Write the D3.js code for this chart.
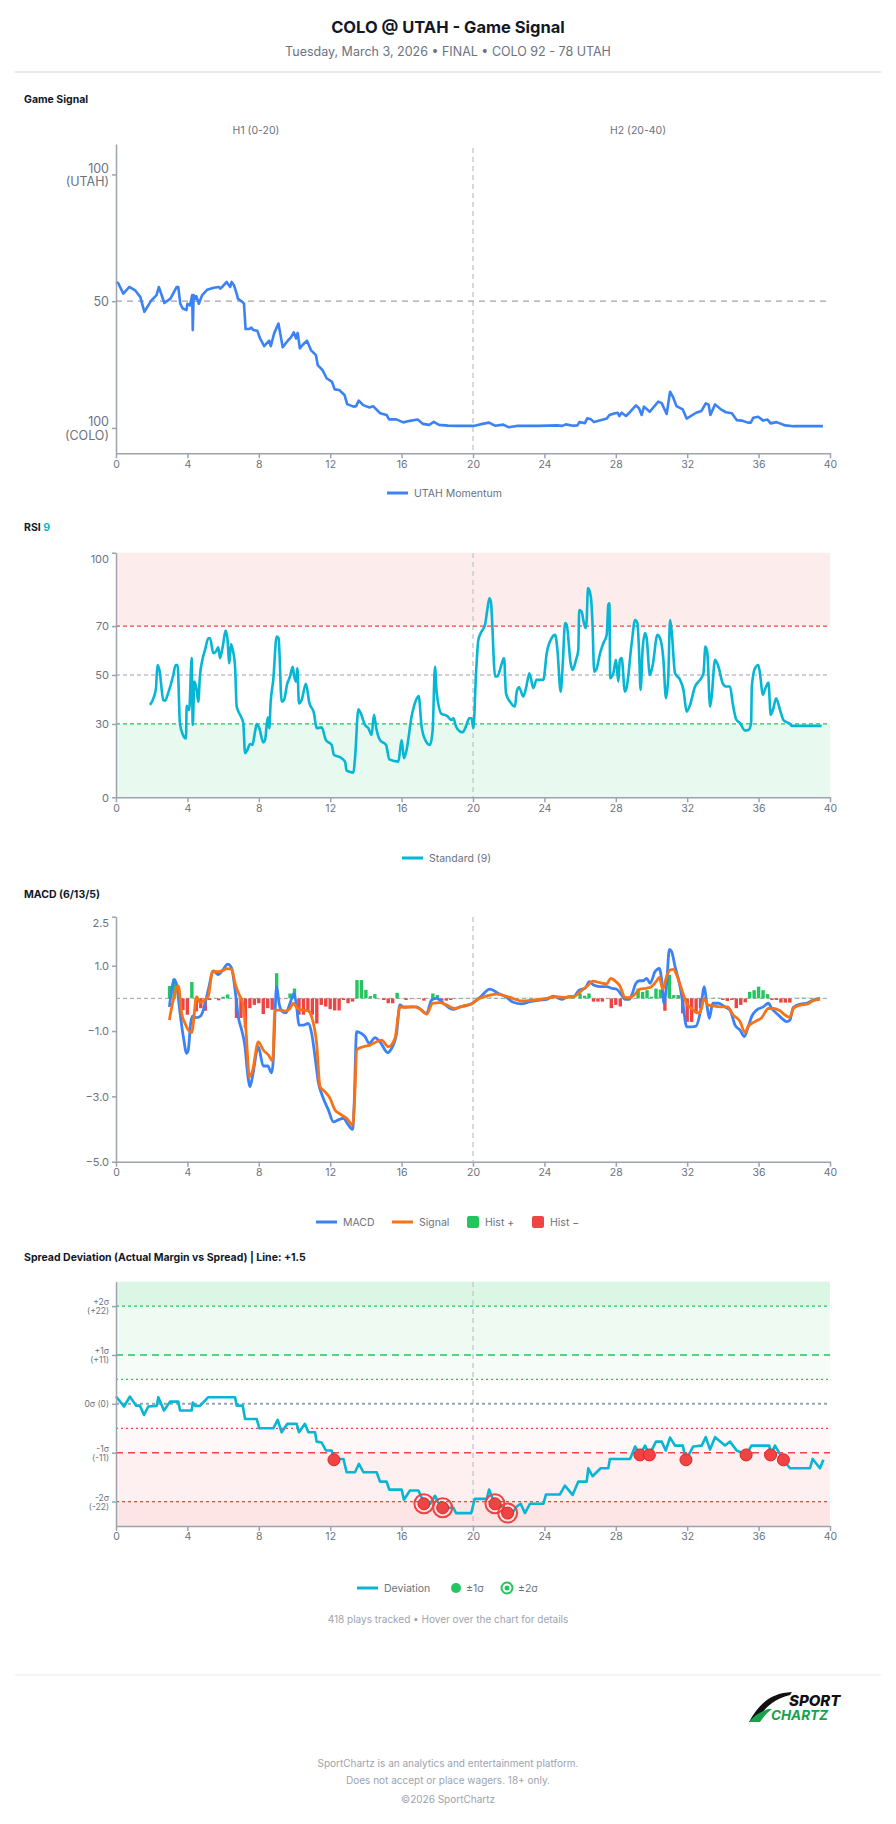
<!DOCTYPE html>
<html>
<head>
<meta charset="utf-8">
<title>COLO @ UTAH - Game Signal</title>
<script src="https://cdn.jsdelivr.net/npm/d3@7"></script>
<style>
  body { margin: 0; background: #fff; }
  svg text { font-family: Inter, "Noto Sans", "DejaVu Sans", sans-serif; }
</style>
</head>
<body>
<div id="chart"></div>
<script>
// game minutes on every x axis
const minuteTicks = [0, 4, 8, 12, 16, 20, 24, 28, 32, 36, 40];

// UTAH momentum (0 = COLO side, 100 = UTAH side)
const momentum = [
  [0,57.6],[0.13,57],[0.41,53],[0.75,55.6],[1.07,54.3],[1.36,51.7],[1.59,45.8],[1.96,50.1],[2.27,52.4],[2.4,55.6],
  [2.71,49.3],[3.05,51],[3.4,55.6],[3.49,55.6],[3.6,49],[3.74,47.1],[3.95,46.5],[4.0,49],[4.14,48.3],[4.27,52.4],
  [4.3,38.6],[4.35,52.4],[4.45,51],[4.5,52],[4.64,49],[4.83,52.4],[5.1,54.5],[5.48,55.3],[5.76,55.6],[5.85,55],
  [6.0,56],[6.2,57.6],[6.4,55.6],[6.48,57.6],[6.6,56.4],[6.76,53],[6.83,51],[7.08,49.7],[7.17,49],[7.26,39],
  [7.45,39],[7.58,39.6],[7.7,38.6],[7.92,38.3],[8.07,35.3],[8.3,32.3],[8.58,34.4],[8.67,32.3],[8.86,37.3],[9.1,41.2],
  [9.34,31.8],[9.62,34.4],[9.8,35.7],[9.96,37.7],[10.09,35.3],[10.18,37.5],[10.3,31.4],[10.45,32.7],[10.7,34.4],[10.92,30.7],
  [11.2,28.7],[11.3,24.8],[11.57,22.8],[11.8,19.6],[12.1,18.2],[12.25,15.2],[12.5,15],[12.8,13],[12.95,9.4],[13.3,8.4],
  [13.45,8.6],[13.6,10.8],[13.85,9],[14.2,8.1],[14.4,8.6],[14.8,5.8],[15.16,5.1],[15.3,3.4],[15.7,3.4],[16.1,2.2],
  [16.47,2.8],[16.9,3.3],[17.2,1.6],[17.55,1.2],[17.8,2.4],[18.1,1.2],[18.6,0.9],[19.09,0.8],[20.02,0.8],[20.39,1.4],
  [20.9,2.1],[21.23,0.9],[21.7,1.3],[21.98,0.3],[22.45,0.8],[23.2,0.8],[23.7,0.8],[24.7,1],[25.0,0.8],[25.2,1.4],
  [25.6,0.9],[25.85,1.0],[25.96,2.3],[26.27,1.9],[26.4,3.8],[26.6,3.4],[26.78,2.3],[27.5,3.7],[27.64,5.1],[27.96,5.8],
  [28.1,6],[28.2,4.7],[28.33,6],[28.57,4.7],[28.76,6],[29.13,8.9],[29.3,7.8],[29.45,5.1],[29.58,8.4],[29.9,6.4],
  [30.38,10.4],[30.57,9.8],[30.85,5.5],[31.04,14.3],[31.2,12.3],[31.4,8.6],[31.75,7.3],[31.97,3.7],[32.5,6],[32.8,6.7],
  [33.04,9.7],[33.2,9.2],[33.3,5.1],[33.56,9.3],[33.93,7.1],[34.17,6.2],[34.5,5.8],[34.77,3.1],[35.05,2.9],[35.4,2.1],
  [35.56,2.1],[35.7,4],[35.98,4.4],[36.26,2.9],[36.5,3.3],[36.67,1.8],[37.0,2.3],[37.5,1],[37.95,0.7],[39.6,0.7]
];

// RSI (9)
const rsi = [
  [1.9,37.8],[2.13,41.2],[2.24,44.6],[2.32,54.1],[2.43,52.1],[2.65,39.8],[2.75,39.5],[2.93,42.8],[3.21,50],[3.34,54.1],
  [3.45,54.1],[3.58,30.3],[3.73,25.9],[3.92,24.1],[3.96,37.4],[4.1,35.7],[4.24,56.9],[4.3,29.6],[4.39,47.3],[4.52,43.9],
  [4.61,39.1],[4.7,49.4],[4.86,56.9],[4.99,60.3],[5.17,65],[5.27,65],[5.45,58.9],[5.6,59.6],[5.73,61.3],[5.83,56.9],
  [5.98,61.6],[6.14,68.2],[6.24,65],[6.35,54.8],[6.44,62.7],[6.54,60.3],[6.67,53.4],[6.76,37.1],[6.95,33.7],[7.13,30.3],
  [7.23,18],[7.36,19.4],[7.51,21.8],[7.64,21.4],[7.79,26.9],[7.88,29.9],[8.03,28.2],[8.25,22.4],[8.35,23.4],[8.5,32.7],
  [8.59,28.2],[8.66,38.4],[8.81,48],[9.0,65.7],[9.11,65],[9.28,39.1],[9.41,39.8],[9.6,46.6],[9.75,49.4],[9.9,53.4],
  [9.97,50],[10.08,47.3],[10.16,52.8],[10.25,38.4],[10.4,39.8],[10.64,46.4],[10.83,38.7],[11.09,34.4],[11.24,28.2],[11.52,28.6],
  [11.76,23.4],[12.08,21.4],[12.21,17.3],[12.55,16.4],[12.83,14.6],[12.92,10.9],[13.3,10.1],[13.39,16],[13.58,36],[13.71,34.4],
  [13.95,29.6],[14.14,28.2],[14.32,25.5],[14.45,33.7],[14.6,27.5],[14.79,23.4],[15.13,21.4],[15.31,15.5],[15.82,14.6],[16.0,23.4],
  [16.13,16],[16.28,19.4],[16.56,33],[16.81,39.8],[16.96,41.4],[17.12,28.9],[17.37,22.8],[17.59,21.4],[17.74,27.5],[17.87,53.4],
  [17.96,43.2],[18.24,34.1],[18.52,33.4],[18.8,31.6],[18.9,32.3],[19.05,28.9],[19.27,26.9],[19.42,26.6],[19.6,28.9],[19.79,32.3],
  [19.92,32.3],[20.02,28.2],[20.17,50.7],[20.3,64.3],[20.43,67.1],[20.67,70.5],[20.8,76.6],[20.92,81.4],[21.0,80],[21.24,49.4],
  [21.37,49.4],[21.51,52.1],[21.74,56.9],[21.85,42.5],[22.07,39.1],[22.35,37.1],[22.45,43.2],[22.58,45],[22.82,41.2],[22.97,44.6],
  [23.16,50.7],[23.38,44.6],[23.56,48],[23.94,48],[24.13,58.9],[24.4,65],[24.6,66.4],[24.73,60.3],[24.91,43.2],[25.02,53.4],
  [25.16,71.2],[25.25,70.5],[25.47,54.8],[25.58,52.1],[25.77,56.2],[25.9,60.3],[25.95,76.6],[26.09,75.9],[26.18,72.5],[26.31,69.1],
  [26.37,72.5],[26.44,85.5],[26.6,82.1],[26.69,71.8],[26.79,51.4],[26.9,52.1],[27.12,58.9],[27.3,63],[27.49,66.4],[27.58,78.7],
  [27.64,79.3],[27.69,48.7],[27.86,50.7],[28.01,56.2],[28.14,47.3],[28.23,56.2],[28.33,56.9],[28.51,43.2],[28.6,44.6],[28.89,63],
  [29.08,72.5],[29.21,71.2],[29.3,60.3],[29.39,43.9],[29.5,60.3],[29.64,67.1],[29.73,65],[29.91,50],[30.07,54.1],[30.33,66.4],
  [30.48,65],[30.66,56.9],[30.81,40.5],[30.94,49.4],[31.04,72.5],[31.13,67.8],[31.32,50.7],[31.6,48],[31.79,43.9],[31.97,35],
  [32.16,37.8],[32.44,45.3],[32.72,48],[32.91,50.7],[33.02,61.6],[33.13,58.9],[33.28,37.1],[33.37,41.2],[33.56,56.2],[33.75,53.4],
  [33.99,46.6],[34.18,45.3],[34.4,45.3],[34.55,38.4],[34.74,31.9],[34.96,30.3],[35.24,27.3],[35.43,27.5],[35.58,30.3],[35.62,45.3],
  [35.8,52.8],[35.99,54.1],[36.12,48],[36.23,41.9],[36.42,45.3],[36.55,46.9],[36.68,33.7],[36.83,36.4],[36.98,40.5],[37.2,35.7],
  [37.39,31.6],[37.57,30.7],[37.76,30],[37.85,29.2],[39.53,29.2]
];

// MACD (6/13/5) line
const macd = [
  [2.99,-0.26],[3.12,0.26],[3.25,0.58],[3.4,0.41],[3.59,-0.46],[3.77,-1.17],[3.96,-1.68],[4.05,-1.58],[4.18,-0.77],[4.3,-0.54],
  [4.52,-0.59],[4.74,-0.54],[4.89,-0.36],[5.17,0.26],[5.45,0.84],[5.73,0.73],[5.98,0.87],[6.26,1.05],[6.48,0.92],[6.67,0.26],
  [6.85,-0.56],[7.04,-0.97],[7.23,-1.48],[7.36,-2.24],[7.51,-2.7],[7.66,-2.35],[7.97,-1.48],[8.25,-2.07],[8.5,-2.07],[8.72,-2.28],
  [8.81,-1.89],[8.9,-0.56],[9.0,0.36],[9.15,-0.2],[9.34,-0.41],[9.52,-0.44],[9.75,-0.15],[9.97,0.15],[10.12,-0.26],[10.25,-0.82],
  [10.5,-0.82],[10.77,-0.77],[10.96,-1.07],[11.15,-1.79],[11.33,-2.55],[11.58,-3.01],[11.9,-3.42],[12.18,-3.78],[12.46,-3.72],[12.74,-3.67],
  [13.02,-3.88],[13.26,-4.01],[13.33,-3.42],[13.48,-1.02],[13.67,-1.05],[13.95,-1.17],[14.19,-1.38],[14.51,-1.2],[14.79,-1.33],[15.22,-1.66],
  [15.44,-1.53],[15.72,-1.07],[15.9,-0.2],[16.1,-0.26],[16.47,-0.26],[16.84,-0.26],[17.12,-0.36],[17.4,-0.46],[17.68,-0.05],[17.96,0],
  [18.34,-0.15],[18.71,-0.31],[18.9,-0.34],[19.27,-0.26],[19.6,-0.23],[20.02,-0.13],[20.39,0.03],[20.95,0.28],[21.42,0.15],[21.88,0.03],
  [22.26,-0.12],[22.72,-0.17],[23.19,-0.1],[23.75,-0.05],[24.13,-0.03],[24.5,0.07],[24.97,-0.03],[25.34,0.05],[25.62,0.05],[25.96,0.26],
  [26.28,0.31],[26.52,0.51],[26.75,0.41],[27.11,0.36],[27.49,0.36],[27.77,0.31],[28.05,0.28],[28.33,0.1],[28.51,-0.03],[28.76,-0.03],
  [28.89,0.1],[29.13,0.46],[29.32,0.54],[29.54,0.54],[29.73,0.61],[29.92,0.46],[30.2,0.82],[30.44,0.92],[30.57,0.56],[30.7,-0.15],
  [30.85,0.46],[31.0,1.5],[31.13,1.43],[31.32,0.97],[31.6,0.36],[31.78,-0.26],[31.97,-0.87],[32.25,-0.87],[32.49,-0.85],[32.72,-0.46],
  [32.96,0.36],[33.09,-0.15],[33.24,-0.61],[33.43,-0.15],[33.75,-0.15],[34.12,-0.26],[34.4,-0.36],[34.68,-0.82],[34.96,-0.97],[35.2,-1.17],
  [35.42,-0.87],[35.61,-0.56],[35.89,-0.36],[36.26,-0.26],[36.55,-0.15],[36.73,-0.31],[37.01,-0.46],[37.3,-0.61],[37.57,-0.71],[37.76,-0.66],
  [37.94,-0.28],[38.32,-0.18],[38.7,-0.15],[39.07,-0.05],[39.44,0]
];

// MACD signal line
const signal = [
  [2.99,-0.66],[3.21,-0.05],[3.49,0.38],[3.68,-0.46],[3.87,-0.77],[4.05,-0.97],[4.24,-1.05],[4.52,0.05],[4.7,-0.12],[4.99,-0.05],
  [5.17,0.07],[5.41,0.82],[5.73,0.82],[5.98,0.85],[6.2,0.91],[6.48,0.89],[6.67,0.46],[6.91,0.1],[7.1,-0.15],[7.28,-0.97],
  [7.47,-2.4],[7.66,-2.19],[7.97,-1.33],[8.25,-1.58],[8.53,-1.73],[8.78,-1.91],[8.9,-0.36],[9.19,-0.36],[9.47,-0.39],[9.75,-0.31],
  [9.93,-0.15],[10.18,-0.31],[10.5,-0.36],[10.77,-0.38],[10.96,-0.56],[11.24,-1.38],[11.43,-2.7],[11.71,-2.86],[11.99,-3.06],[12.27,-3.42],
  [12.55,-3.54],[12.92,-3.67],[13.26,-3.88],[13.39,-2.81],[13.48,-1.58],[13.86,-1.48],[14.23,-1.43],[14.6,-1.33],[14.88,-1.28],[15.26,-1.48],
  [15.63,-1.22],[15.91,-0.26],[16.19,-0.28],[16.65,-0.26],[16.99,-0.31],[17.4,-0.48],[17.74,-0.15],[18.15,-0.13],[18.5,-0.2],[19.0,-0.31],
  [19.46,-0.23],[19.93,-0.17],[20.2,-0.05],[20.95,0.1],[21.33,0.13],[22.07,0.03],[22.72,-0.08],[23.38,-0.05],[24.13,0],[24.6,0.05],
  [25.25,0.03],[25.62,0.05],[26.18,0.28],[26.46,0.41],[26.7,0.53],[27.11,0.48],[27.49,0.44],[27.71,0.61],[28.01,0.51],[28.23,0.38],
  [28.51,0.03],[28.76,0.02],[29.08,0.13],[29.35,0.28],[29.73,0.31],[30.0,0.36],[30.25,0.51],[30.44,0.64],[30.63,0.28],[30.85,0.68],
  [31.04,0.87],[31.22,0.89],[31.45,0.66],[31.7,0.26],[31.97,-0.15],[32.25,-0.31],[32.53,-0.44],[32.72,-0.44],[32.96,0],[33.15,-0.2],
  [33.43,-0.23],[33.84,-0.26],[34.25,-0.26],[34.58,-0.51],[34.96,-0.71],[35.24,-1.05],[35.42,-0.85],[35.8,-0.71],[36.17,-0.59],[36.55,-0.31],
  [36.83,-0.31],[37.2,-0.38],[37.48,-0.51],[37.73,-0.58],[37.99,-0.28],[38.41,-0.2],[38.7,-0.18],[39.07,-0.07],[39.44,-0.03]
];

// MACD histogram, one bar per quarter minute starting at minute 3
const histStart = 3;
const histStep = 0.25;
const histValues = [
  0.38,0.6,0.3,-0.36,-0.5,0.5,-0.4,-0.3,-0.38,-0.05,0.02,-0.06,0.05,0.12,0.02,-0.6,-0.6,-0.9,-0.3,-0.2,
  -0.15,-0.48,-0.3,-0.35,0.77,-0.03,-0.02,0.15,0.3,-0.5,-0.5,-0.36,-0.5,-0.77,-0.2,-0.25,-0.33,-0.37,-0.37,-0.05,
  -0.15,-0.1,0.56,0.56,0.26,0.07,0.13,-0.03,-0.05,-0.15,-0.15,0.17,0.01,-0.05,-0.03,-0.03,-0.02,-0.07,0.01,0.15,
  0.1,-0.07,-0.07,-0.05,-0.02,0.01,0.02,0.02,0.03,0.03,0.04,0.04,0.04,0.03,0.02,0.01,-0.02,-0.03,-0.02,0.02,
  0.03,0.03,0.02,0.02,0.01,0.02,0.01,-0.01,0.01,0.02,0.02,0.03,0.15,0.08,0.15,-0.1,-0.1,-0.1,-0.02,-0.3,
  -0.2,-0.25,-0.02,0.02,-0.02,0.3,0.2,0.25,0.05,0.3,0.27,-0.38,0.72,0.1,0.1,-0.46,-0.72,-0.72,-0.42,-0.3,
  -0.02,0.02,0.03,0.03,-0.05,-0.08,-0.05,-0.3,-0.2,-0.12,0.2,0.25,0.36,0.25,0.13,-0.05,-0.05,-0.13,-0.13,-0.13,
  0.03,0.03,0.04,0.03,0.03,0.02,0.01
];

// spread deviation in points (1 sigma = 11)
const deviation = [
  [0,1.65],[0.45,-0.6],[0.78,1.65],[1.12,-0.4],[1.34,-0.4],[1.57,-2.5],[1.81,-0.6],[2.28,-0.45],[2.37,1.5],[2.69,-1.5],
  [3.03,0.5],[3.49,0.5],[3.59,-1.5],[4.24,-1.5],[4.3,0.3],[4.43,-0.45],[4.7,-0.45],[5.17,1.5],[6.67,1.5],[6.76,-0.4],
  [7.1,-0.4],[7.23,-3.4],[7.88,-3.4],[8.03,-5.5],[8.81,-5.5],[9.06,-3.6],[9.28,-6.4],[9.6,-4.5],[10.12,-4.5],[10.25,-6.4],
  [10.58,-4.5],[10.78,-6.4],[11.15,-6.4],[11.24,-8.5],[11.52,-8.7],[11.76,-10.5],[12.08,-10.5],[12.2,-12.4],[12.74,-12.4],[12.92,-15.4],
  [13.39,-15.4],[13.61,-13.5],[13.86,-15.4],[14.6,-15.4],[14.79,-17.5],[15.16,-17.5],[15.31,-19.3],[16.0,-19.3],[16.13,-21.6],[16.47,-19.5],
  [16.94,-19.5],[17.18,-21.6],[17.25,-22.5],[17.6,-22.5],[17.87,-20.7],[18.1,-22.5],[18.3,-23.4],[18.9,-23.4],[19.05,-24.6],[19.9,-24.6],
  [20.1,-21.4],[20.77,-21.4],[20.9,-19.3],[21.1,-21.4],[21.23,-22.5],[21.5,-22.5],[21.94,-24.6],[22.2,-24.6],[22.45,-23.1],[22.67,-22.5],
  [22.91,-24.6],[23.19,-22.5],[23.94,-22.5],[24.09,-20.4],[24.87,-20.4],[25.15,-18.4],[25.58,-20.5],[25.9,-17.5],[26.37,-17.5],[26.46,-14.5],
  [26.7,-16.3],[27.15,-14.5],[27.58,-14.5],[27.67,-12.4],[28.8,-12.4],[29.08,-9.6],[29.35,-11.5],[29.64,-9.4],[29.88,-11.5],[30.25,-8.5],
  [30.57,-8.5],[30.8,-10.5],[31.04,-7.6],[31.32,-9.4],[31.75,-9.4],[31.93,-12.6],[32.34,-9.6],[32.81,-9.4],[33.04,-7.5],[33.28,-10.3],
  [33.56,-7.5],[34.12,-9.4],[34.4,-8.5],[34.77,-10.5],[35.3,-11.5],[35.6,-9.4],[36.6,-9.4],[36.67,-11.5],[36.92,-9.4],[37.16,-11.1],
  [37.39,-12.6],[37.76,-14.5],[38.88,-14.5],[39.03,-12.4],[39.44,-14.5],[39.63,-12.6]
];
const sigma1Hits = [[12.21,-12.6],[29.35,-11.5],[29.88,-11.5],[31.93,-12.6],[35.3,-11.5],[36.67,-11.5],[37.39,-12.6]];
const sigma2Hits = [[17.25,-22.5],[18.3,-23.4],[21.23,-22.5],[21.94,-24.6]];

// y tick labels
const momentumTicks = [100, 50, 0];
const momentumLabels = [["100", "(UTAH)"], ["50"], ["100", "(COLO)"]];
const rsiTicks = [100, 70, 50, 30, 0];
const macdTicks = [2.5, 1.0, -1.0, -3.0, -5.0];
const spreadTicks = [22, 11, 0, -11, -22];
const spreadLabels = [["+2σ", "(+22)"], ["+1σ", "(+11)"], ["0σ (0)"], ["-1σ", "(-11)"], ["-2σ", "(-22)"]];

const FONT = 'Inter, "Noto Sans", sans-serif';
const GRID = "#9ca3af", TXT = "#6b7280";
const BLUE = "#3b82f6", ORANGE = "#f97316", CYAN = "#06b6d4", GREEN = "#22c55e", RED = "#ef4444";

const svg = d3.select("#chart").append("svg")
  .attr("width", 896).attr("height", 1824);

var x = d3.scaleLinear().domain([0, 40]).range([116, 830]);

function styleAxis(g) {
  g.select(".domain").attr("stroke", GRID).attr("stroke-width", 1.5);
  g.selectAll(".tick line").attr("stroke", GRID).attr("stroke-width", 1.5);
  g.selectAll(".tick text").attr("fill", TXT).attr("font-size", 10.5).attr("font-family", FONT);
}

function xAxis(y0) {
  var g = svg.append("g").attr("transform", "translate(0," + y0 + ")")
    .call(d3.axisBottom(x).tickValues(minuteTicks).tickSize(5).tickSizeOuter(0).tickPadding(2));
  styleAxis(g);
}

function yAxis(y, ticks, labels, size, gap) {
  var g = svg.append("g").attr("transform", "translate(116,0)")
    .call(d3.axisLeft(y).tickValues(ticks).tickSize(4).tickSizeOuter(0).tickFormat(""));
  styleAxis(g);
  g.selectAll(".tick").each(function(d, i) {
    var lines = labels[i];
    var top = (d === y.domain()[1]) ? 6 : 0;   // keep the top label inside
    var t = d3.select(this).append("text")
      .attr("x", -7).attr("fill", TXT).attr("font-size", size)
      .attr("text-anchor", "end").attr("font-family", FONT);
    lines.forEach(function(s, k) {
      t.append("tspan").attr("x", -7)
        .attr("y", top + (k - (lines.length - 1) / 2) * gap)
        .attr("dy", "0.35em").text(s);
    });
  });
}

function halfLine(y0, y1) {
  svg.append("line").attr("x1", x(20)).attr("x2", x(20)).attr("y1", y0).attr("y2", y1)
    .attr("stroke", "#c8ccd2").attr("stroke-width", 1.5).attr("stroke-dasharray", "5,4");
}

function hLine(y, v, color, dash, w) {
  svg.append("line").attr("x1", x(0)).attr("x2", x(40)).attr("y1", y(v)).attr("y2", y(v))
    .attr("stroke", color).attr("stroke-width", w || 1.2).attr("stroke-dasharray", dash);
}

function label(txt, xx, yy, opts) {
  opts = opts || {};
  return svg.append("text").attr("x", xx).attr("y", yy).attr("dy", "0.35em")
    .attr("font-size", opts.size || 10.5).attr("fill", opts.fill || TXT)
    .attr("font-weight", opts.weight || 400).attr("text-anchor", opts.anchor || "start")
    .text(txt);
}

function legendLine(x0, yy, color, txt) {
  svg.append("line").attr("x1", x0).attr("x2", x0 + 21).attr("y1", yy).attr("y2", yy)
    .attr("stroke", color).attr("stroke-width", 3);
  label(txt, x0 + 27, yy);
}

// ---------- header ----------
label("COLO @ UTAH - Game Signal", 448, 27, {size: 16.5, weight: 700, fill: "#111827", anchor: "middle"});
label("Tuesday, March 3, 2026 • FINAL • COLO 92 - 78 UTAH", 448, 52, {size: 12.5, fill: TXT, anchor: "middle"});
svg.append("line").attr("x1", 15).attr("x2", 881).attr("y1", 72).attr("y2", 72)
  .attr("stroke", "#d1d5db").attr("stroke-width", 1);

// ---------- Game Signal ----------
label("Game Signal", 24, 99, {size: 10.5, weight: 700, fill: "#111827"});
var yM = d3.scaleLinear().domain([-10, 112]).range([453.3, 144]);
label("H1 (0-20)", 256, 130, {size: 10.5, fill: TXT, anchor: "middle"});
label("H2 (20-40)", 638, 130, {size: 10.5, fill: TXT, anchor: "middle"});
halfLine(148, 453);
hLine(yM, 50, "#a1a1aa", "6,5", 1.2);
svg.append("path").datum(momentum)
  .attr("fill", "none").attr("stroke", BLUE).attr("stroke-width", 2.6).attr("stroke-linejoin", "round")
  .attr("d", d3.line().x(d => x(d[0])).y(d => yM(d[1])));
yAxis(yM, momentumTicks, momentumLabels, 12.5, 13.5);
xAxis(453.3);
legendLine(387, 493, BLUE, "UTAH Momentum");

// ---------- RSI ----------
var rsiTitle = label("RSI ", 24, 527, {size: 10.5, weight: 700, fill: "#111827"});
rsiTitle.append("tspan").attr("fill", CYAN).text("9");
var yR = d3.scaleLinear().domain([0, 100]).range([797.3, 552.7]);
svg.append("rect").attr("x", x(0)).attr("width", x(40) - x(0))
  .attr("y", yR(100)).attr("height", yR(70) - yR(100)).attr("fill", RED).attr("fill-opacity", 0.1);
svg.append("rect").attr("x", x(0)).attr("width", x(40) - x(0))
  .attr("y", yR(30)).attr("height", yR(0) - yR(30)).attr("fill", GREEN).attr("fill-opacity", 0.1);
halfLine(553, 797);
hLine(yR, 70, RED, "4,3");
hLine(yR, 50, GRID, "4,3");
hLine(yR, 30, GREEN, "4,3");
svg.append("path").datum(rsi)
  .attr("fill", "none").attr("stroke", CYAN).attr("stroke-width", 2.6).attr("stroke-linejoin", "round")
  .attr("d", d3.line().curve(d3.curveMonotoneX).x(d => x(d[0])).y(d => yR(d[1])));
yAxis(yR, rsiTicks, rsiTicks.map(v => [String(v)]), 11, 0);
xAxis(797.3);
legendLine(402, 858, CYAN, "Standard (9)");

// ---------- MACD ----------
label("MACD (6/13/5)", 24, 894, {size: 10.5, weight: 700, fill: "#111827"});
var yD = d3.scaleLinear().domain([-5, 2.5]).range([1161.7, 916.7]);
halfLine(917, 1161);
hLine(yD, 0, GRID, "4,3", 1);
svg.append("g").selectAll("rect").data(histValues).join("rect")
  .attr("x", (d, i) => x(histStart + i * histStep) - 1.7)
  .attr("width", 3.4)
  .attr("y", d => yD(Math.max(0, d)))
  .attr("height", d => Math.max(0.8, Math.abs(yD(d) - yD(0))))
  .attr("fill", d => d >= 0 ? GREEN : RED)
  .attr("fill-opacity", d => Math.abs(d) < 0.045 ? 0.35 : 1);
var macdLine = d3.line().curve(d3.curveMonotoneX).x(d => x(d[0])).y(d => yD(d[1]));
svg.append("path").datum(macd).attr("fill", "none").attr("stroke", BLUE)
  .attr("stroke-width", 2.8).attr("stroke-linejoin", "round").attr("d", macdLine);
svg.append("path").datum(signal).attr("fill", "none").attr("stroke", ORANGE)
  .attr("stroke-width", 2.8).attr("stroke-linejoin", "round").attr("d", macdLine);
yAxis(yD, macdTicks, macdTicks.map(v => [d3.format(".1f")(v)]), 11, 0);
xAxis(1161.7);
legendLine(316, 1222, BLUE, "MACD");
legendLine(392, 1222, ORANGE, "Signal");
svg.append("rect").attr("x", 467).attr("y", 1216).attr("width", 12).attr("height", 12).attr("rx", 2).attr("fill", GREEN);
label("Hist +", 485, 1222);
svg.append("rect").attr("x", 532).attr("y", 1216).attr("width", 12).attr("height", 12).attr("rx", 2).attr("fill", RED);
label("Hist −", 550, 1222);

// ---------- Spread Deviation ----------
label("Spread Deviation (Actual Margin vs Spread) | Line: +1.5", 24, 1257, {size: 10.5, weight: 700, fill: "#111827"});
var yS = d3.scaleLinear().domain([-27.5, 27.5]).range([1526, 1281.7]);
var bands = [
  [22, 27.5, GREEN, 0.16], [11, 22, GREEN, 0.08], [5.5, 11, GREEN, 0.04],
  [-11, -5.5, RED, 0.04], [-22, -11, RED, 0.08], [-27.5, -22, RED, 0.14]
];
bands.forEach(function(b) {
  svg.append("rect").attr("x", x(0)).attr("width", x(40) - x(0))
    .attr("y", yS(b[1])).attr("height", yS(b[0]) - yS(b[1]))
    .attr("fill", b[2]).attr("fill-opacity", b[3]);
});
halfLine(1282, 1526);
hLine(yS, 22, GREEN, "3,3");
hLine(yS, 11, GREEN, "7,5", 1.5);
hLine(yS, 5.5, GREEN, "2,3");
hLine(yS, 0, GRID, "3,3", 2);
hLine(yS, -5.5, RED, "2,3");
hLine(yS, -11, RED, "7,5", 1.5);
hLine(yS, -22, RED, "3,3");
svg.append("path").datum(deviation)
  .attr("fill", "none").attr("stroke", CYAN).attr("stroke-width", 2.6).attr("stroke-linejoin", "round")
  .attr("d", d3.line().x(d => x(d[0])).y(d => yS(d[1])));
svg.append("g").selectAll("circle").data(sigma2Hits).join("circle")
  .attr("cx", d => x(d[0])).attr("cy", d => yS(d[1])).attr("r", 9.5)
  .attr("fill", "none").attr("stroke", RED).attr("stroke-width", 2);
svg.append("g").selectAll("circle").data(sigma1Hits.concat(sigma2Hits)).join("circle")
  .attr("cx", d => x(d[0])).attr("cy", d => yS(d[1])).attr("r", 6)
  .attr("fill", RED).attr("stroke", "#dc2626").attr("stroke-width", 1);
yAxis(yS, spreadTicks, spreadLabels, 8.5, 9);
xAxis(1526);
legendLine(357, 1588, CYAN, "Deviation");
svg.append("circle").attr("cx", 456).attr("cy", 1588).attr("r", 5).attr("fill", GREEN);
label("±1σ", 466, 1588);
svg.append("circle").attr("cx", 507).attr("cy", 1588).attr("r", 5.5).attr("fill", "#fff")
  .attr("stroke", GREEN).attr("stroke-width", 2);
svg.append("circle").attr("cx", 507).attr("cy", 1588).attr("r", 2.5).attr("fill", GREEN);
label("±2σ", 518, 1588);

// ---------- footer ----------
label("418 plays tracked • Hover over the chart for details", 448, 1619, {size: 10, fill: "#9ca3af", anchor: "middle"});
svg.append("line").attr("x1", 15).attr("x2", 881).attr("y1", 1675).attr("y2", 1675)
  .attr("stroke", "#eef0f2").attr("stroke-width", 1.5);

// logo
var logo = svg.append("g");
logo.append("path")
  .attr("d", "M749,1722 L756,1722 C762,1712 770,1700 790,1695 L792,1692 C772,1693 760,1702 749,1722 Z")
  .attr("fill", "#111");
logo.append("path")
  .attr("d", "M749,1722 L760,1722 C764,1716 768,1712 772,1709 L768,1709 C760,1712 753,1716 749,1722 Z")
  .attr("fill", "#16a34a");
logo.append("text").attr("x", 789).attr("y", 1706).attr("font-size", 15).attr("font-weight", 800)
  .attr("font-style", "italic").attr("fill", "#111").text("SPORT");
logo.append("text").attr("x", 771).attr("y", 1720).attr("font-size", 13.5).attr("font-weight", 700)
  .attr("font-style", "italic").attr("fill", "#16a34a").text("CHARTZ");

label("SportChartz is an analytics and entertainment platform.", 448, 1763, {size: 10, fill: "#9ca3af", anchor: "middle"});
label("Does not accept or place wagers. 18+ only.", 448, 1780, {size: 10, fill: "#9ca3af", anchor: "middle"});
label("©2026 SportChartz", 448, 1799, {size: 10, fill: "#9ca3af", anchor: "middle"});
</script>
</body>
</html>
